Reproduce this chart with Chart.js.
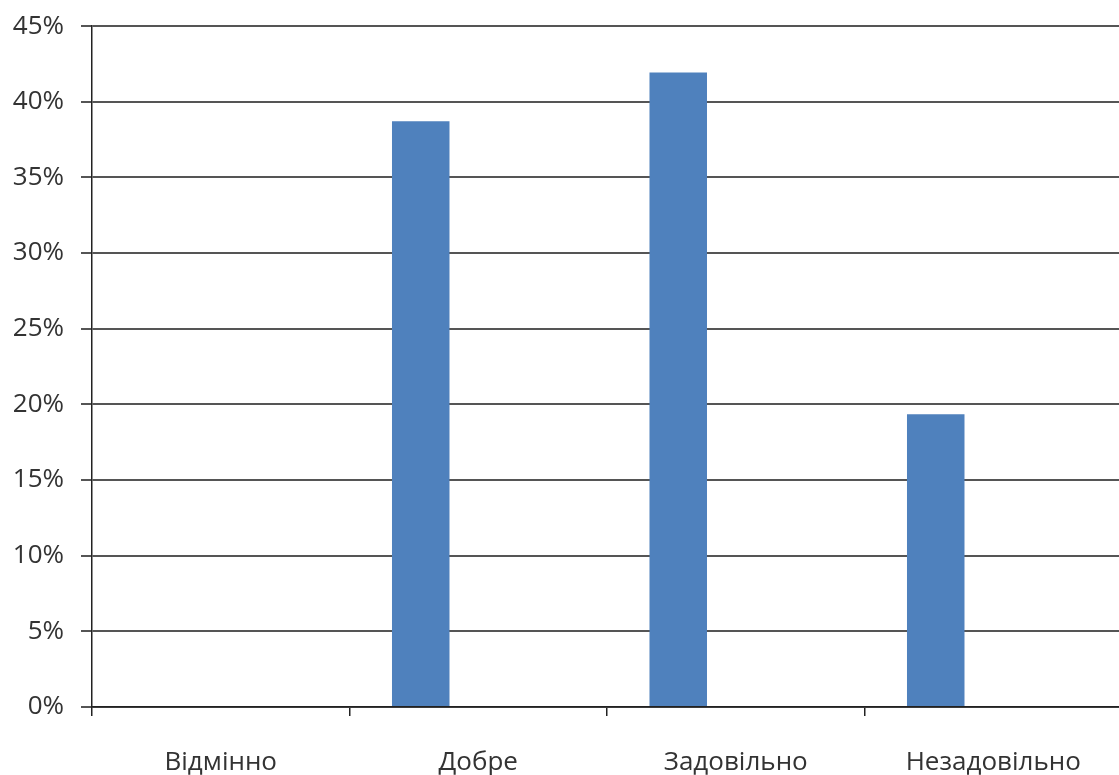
<!DOCTYPE html>
<html>
<head>
<meta charset="utf-8">
<script src="https://cdn.jsdelivr.net/npm/chart.js@4/dist/chart.umd.min.js"></script>
<style>
  html, body { margin: 0; padding: 0; background: #fff; overflow: hidden; }
  #wrap { position: relative; width: 1122px; height: 775px; }
</style>
</head>
<body>
<div id="wrap"><canvas id="c"></canvas></div>
<script>
// Grade categories and the share of answers for each (percent)
const categories = ['Відмінно', 'Добре', 'Задовільно', 'Незадовільно'];
const shares = [0, 38.71, 41.94, 19.35];
// Two further series slots of the clustered layout, left empty
const emptySeriesA = [null, null, null, null];
const emptySeriesB = [null, null, null, null];
const yTicks = [0, 5, 10, 15, 20, 25, 30, 35, 40, 45];

const font = { family: '"Open Sans", "DejaVu Sans", sans-serif', size: 26 };

new Chart(document.getElementById('c'), {
  type: 'bar',
  data: {
    labels: categories,
    datasets: [
      { label: 'Частка', data: shares, backgroundColor: '#4F81BD', borderWidth: 0 },
      { label: 'B', data: emptySeriesA, backgroundColor: '#C0504D' },
      { label: 'C', data: emptySeriesB, backgroundColor: '#9BBB59' }
    ]
  },
  options: {
    responsive: true,
    maintainAspectRatio: false,
    animation: false,
    layout: { padding: { top: 0, left: 0, right: 0, bottom: 0 } },
    plugins: { legend: { display: false }, tooltip: { enabled: false } },
    datasets: { bar: { categoryPercentage: 0.67, barPercentage: 1.0 } },
    scales: {
      x: {
        grid: { display: true, offset: true, drawOnChartArea: false, drawTicks: true, tickLength: 9, color: '#222', lineWidth: 1.5 },
        border: { display: true, color: '#222', width: 1.5 },
        ticks: { font: font, color: '#333', padding: 31 },
        afterFit: (s) => { s.height = 68; }
      },
      y: {
        min: 0, max: 45,
        afterBuildTicks: (s) => { s.ticks = yTicks.map(v => ({ value: v })); },
        grid: { color: '#555', lineWidth: 2, drawTicks: true, tickLength: 11 },
        border: { display: true, color: '#222', width: 1.5 },
        ticks: { font: Object.assign({}, font, { lineHeight: 0.7 }), color: '#333', padding: 17, callback: (v) => v + '%' },
        afterFit: (s) => { s.width = 92; }
      }
    }
  }
});
</script>
</body>
</html>
